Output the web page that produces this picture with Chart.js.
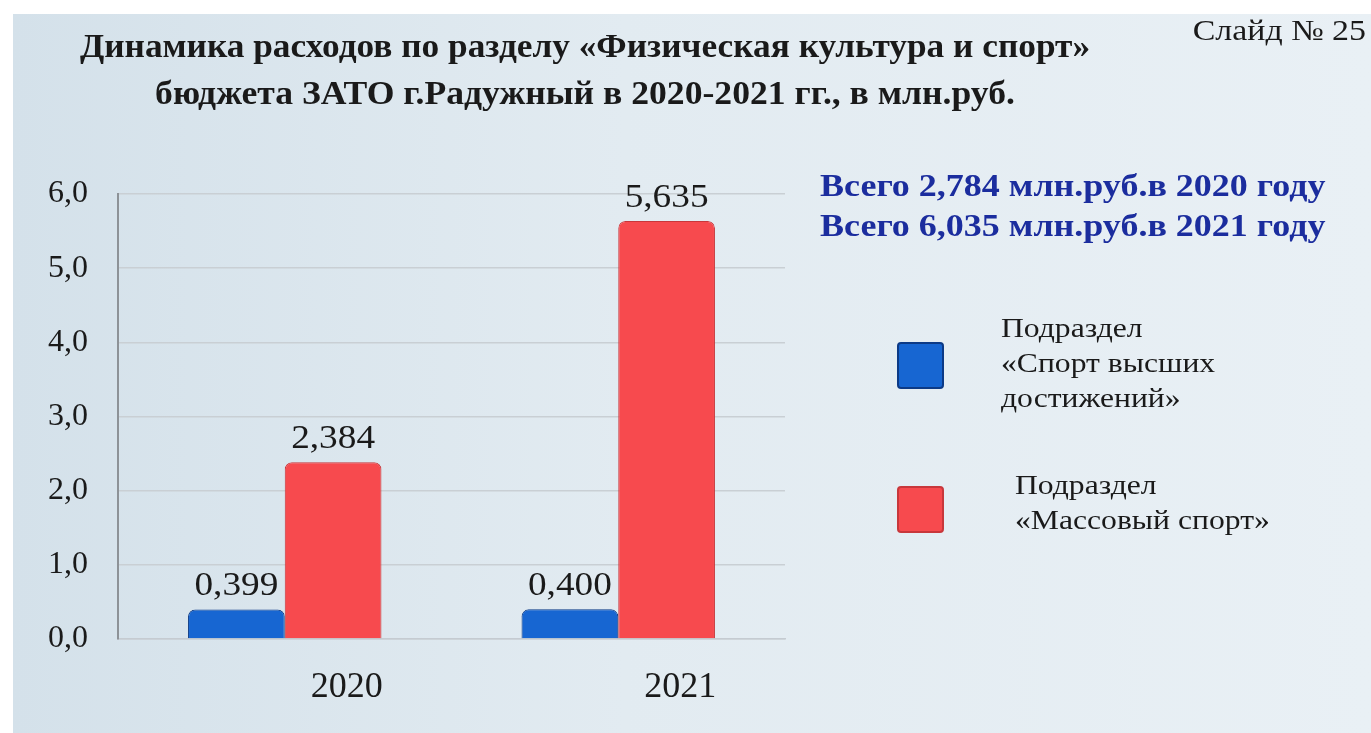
<!DOCTYPE html>
<html lang="ru">
<head>
<meta charset="utf-8">
<title>Слайд 25</title>
<script src="https://cdn.jsdelivr.net/npm/chart.js@4.4.0/dist/chart.umd.min.js"></script>
<style>
  html, body { margin: 0; padding: 0; background: #fff; overflow: hidden; }
</style>
</head>
<body>
<canvas id="chart" width="1371" height="733"></canvas>
<script>
// данные слайда
const years = ['2020', '2021'];
const sportHigh = [0.399, 0.400];
const sportMass = [2.384, 5.635];
const totals = [2.784, 6.035];
const highLegend = ['Подраздел', '«Спорт высших', 'достижений»'];
const massLegend = ['Подраздел', '«Массовый спорт»'];
const titleLines = [
    'Динамика расходов по разделу «Физическая культура и спорт»',
    'бюджета ЗАТО г.Радужный в 2020-2021 гг., в млн.руб.'
];
const slideLabel = 'Слайд № 25';

const serif = '"Liberation Serif", "Times New Roman", serif';

function comma(v, digits) {
    return v.toFixed(digits).replace('.', ',');
}

// слайд растянут по ширине, поэтому текст чуть шире обычного
function wideText(ctx, text, x, y, sx) {
    ctx.save();
    ctx.translate(x, y);
    ctx.scale(sx, 1);
    ctx.fillText(text, 0, 0);
    ctx.restore();
}

const slidePlugin = {
    id: 'slide',
    beforeDraw(chart) {
        const ctx = chart.ctx;
        ctx.save();
        ctx.fillStyle = '#ffffff';
        ctx.fillRect(0, 0, chart.width, chart.height);
        let bg = ctx.createLinearGradient(13, 0, chart.width, 0);
        bg.addColorStop(0, '#d4e1ea');
        bg.addColorStop(0.45, '#e2ebf1');
        bg.addColorStop(1, '#e9f0f5');
        ctx.fillStyle = bg;
        ctx.fillRect(13, 14, chart.width - 13, chart.height - 14);
        ctx.restore();
    },
    afterDraw(chart) {
        const ctx = chart.ctx;
        ctx.save();

        // заголовок
        ctx.fillStyle = '#1a1a1a';
        ctx.textAlign = 'center';
        ctx.textBaseline = 'middle';
        ctx.font = 'bold 33px ' + serif;
        wideText(ctx, titleLines[0], 585, 48, 1.07);
        wideText(ctx, titleLines[1], 585, 95, 1.08);

        ctx.font = '29px ' + serif;
        ctx.textAlign = 'right';
        wideText(ctx, slideLabel, 1366, 32, 1.17);

        // итоги по годам
        ctx.textAlign = 'left';
        ctx.fillStyle = '#1b2d9e';
        ctx.font = 'bold 32px ' + serif;
        totals.forEach((t, i) => {
            wideText(ctx, 'Всего ' + comma(t, 3) + ' млн.руб.в ' + years[i] + ' году', 820, 188 + i * 40, 1.125);
        });

        // подписи значений над столбцами
        ctx.fillStyle = '#1a1a1a';
        ctx.textAlign = 'center';
        ctx.textBaseline = 'alphabetic';
        ctx.font = '33px ' + serif;
        chart.data.datasets.forEach((ds, i) => {
            chart.getDatasetMeta(i).data.forEach((bar, j) => {
                wideText(ctx, comma(ds.data[j], 3), bar.x, bar.y - 14, 1.13);
            });
        });

        // легенда
        const items = [
            { ds: 0, lines: highLegend, boxY: 343, textX: 1001, textY: 330 },
            { ds: 1, lines: massLegend, boxY: 487, textX: 1015, textY: 487 }
        ];
        items.forEach(it => {
            const ds = chart.data.datasets[it.ds];
            ctx.fillStyle = ds.backgroundColor;
            ctx.strokeStyle = ds.borderColor;
            ctx.lineWidth = 2;
            ctx.beginPath();
            ctx.roundRect(898, it.boxY, 45, 45, 3);
            ctx.fill();
            ctx.stroke();
            ctx.fillStyle = '#1a1a1a';
            ctx.font = '28px ' + serif;
            ctx.textAlign = 'left';
            ctx.textBaseline = 'middle';
            it.lines.forEach((l, k) => wideText(ctx, l, it.textX, it.textY + k * 35, 1.13));
        });

        ctx.restore();
    }
};

new Chart(document.getElementById('chart'), {
    type: 'bar',
    data: {
        labels: years,
        datasets: [
            {
                label: highLegend.join(' '),
                data: sportHigh,
                backgroundColor: '#1766d2',
                borderColor: '#0c3a86',
                borderWidth: 1,
                borderSkipped: 'bottom',
                borderRadius: { topLeft: 7, topRight: 7 },
                barPercentage: 1,
                categoryPercentage: 0.58
            },
            {
                label: massLegend.join(' '),
                data: sportMass,
                backgroundColor: '#f74a4e',
                borderColor: '#c8373b',
                borderWidth: 1,
                borderSkipped: 'bottom',
                borderRadius: { topLeft: 7, topRight: 7 },
                barPercentage: 1,
                categoryPercentage: 0.58
            }
        ]
    },
    options: {
        responsive: false,
        animation: false,
        layout: {
            padding: { top: 194, right: 586, bottom: 0, left: 0 }
        },
        plugins: {
            legend: { display: false },
            title: { display: false },
            tooltip: { enabled: false }
        },
        scales: {
            x: {
                grid: { display: false, drawTicks: false },
                border: { display: true, color: '#c5cbd1', width: 1.5 },
                ticks: {
                    color: '#1a1a1a',
                    font: { family: serif, size: 36 },
                    padding: 27,
                    labelOffset: 62
                },
                afterFit(scale) { scale.height = 94; }
            },
            y: {
                min: 0,
                max: 6,
                grid: { color: '#c9cfd4', lineWidth: 1.5, drawTicks: false },
                border: { display: true, color: '#8d9297', width: 2 },
                ticks: {
                    stepSize: 1,
                    color: '#1a1a1a',
                    font: { family: serif, size: 32 },
                    padding: 30,
                    callback: (v) => comma(v, 1)
                },
                afterFit(scale) { scale.width = 118; }
            }
        }
    },
    plugins: [slidePlugin]
});
</script>
</body>
</html>
